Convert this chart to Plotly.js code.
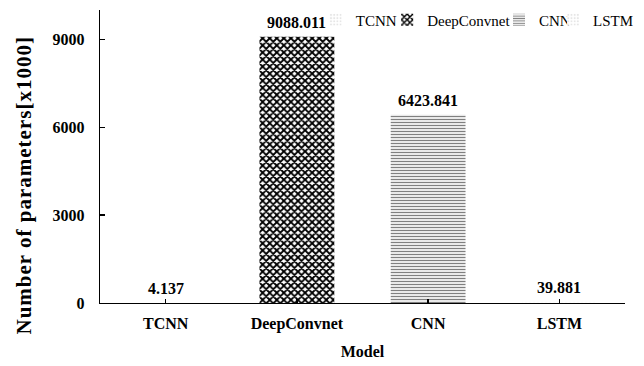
<!DOCTYPE html>
<html>
<head>
<meta charset="utf-8">
<script src="https://cdn.plot.ly/plotly-3.0.1.min.js"></script>
<style>
html,body{margin:0;padding:0;background:#fff;}
#chart{width:644px;height:366px;}
#chart .annotation[data-index="4"] .annotation-text{letter-spacing:1px;}
</style>
</head>
<body>
<div id="chart"></div>
<script>
const models = ["TCNN", "DeepConvnet", "CNN", "LSTM"];
const params = [4.137, 9088.011, 6423.841, 39.881];
const yTicks = [0, 3000, 6000, 9000];
const yTitle = 'Number of parameters[x1000]';
const xTitle = 'Model';

const FONT = 'Liberation Serif';
const patterns = [
  {shape: '.', fgcolor: '#e6e6e6', bgcolor: 'white', size: 4, solidity: 0.3},
  {shape: 'x', fgcolor: 'black', bgcolor: 'white', size: 5, solidity: 0.6},
  {shape: '-', fgcolor: '#808080', bgcolor: 'white', size: 3, solidity: 0.45},
  {shape: '.', fgcolor: '#e6e6e6', bgcolor: 'white', size: 4, solidity: 0.3}
];
// legend placement (paper x of each legend's left edge)
const legendX = [0.411, 0.547, 0.76, 0.863];

const traces = models.map((m, i) => ({
  type: 'bar',
  name: m,
  x: [m],
  y: [params[i]],
  legend: i === 0 ? 'legend' : 'legend' + (i + 1),
  marker: {color: 'white', line: {width: 0}, pattern: patterns[i]},
  hoverinfo: 'x+y'
}));

const legendBase = {
  orientation: 'h', xanchor: 'left', y: 0.966, yanchor: 'middle',
  font: {family: FONT, size: 15, color: 'black'},
  itemwidth: 30, bgcolor: 'rgba(0,0,0,0)', borderwidth: 0
};

const annotations = models.map((m, i) => ({
  x: m, y: params[i], xref: 'x', yref: 'y',
  text: params[i].toFixed(3),
  showarrow: false, yanchor: 'bottom', yshift: 4,
  font: {family: FONT, size: 16, color: 'black', weight: 'bold'}
}));
annotations.push({
  xref: 'paper', yref: 'paper', x: (24 - 100) / 525, y: (303 - 186) / 293,
  text: yTitle, textangle: -90, showarrow: false,
  xanchor: 'center', yanchor: 'middle',
  font: {family: FONT, size: 21, color: 'black', weight: 'bold'}
});

const layout = {
  width: 644, height: 366,
  margin: {l: 100, r: 19, t: 10, b: 63, autoexpand: false},
  paper_bgcolor: 'white', plot_bgcolor: 'white',
  barmode: 'overlay',
  bargap: 0.43,
  font: {family: FONT, color: 'black'},
  showlegend: true,
  legend: Object.assign({}, legendBase, {x: legendX[0]}),
  legend2: Object.assign({}, legendBase, {x: legendX[1]}),
  legend3: Object.assign({}, legendBase, {x: legendX[2]}),
  legend4: Object.assign({}, legendBase, {x: legendX[3]}),
  annotations: annotations,
  xaxis: {
    type: 'category', categoryorder: 'array', categoryarray: models,
    showline: true, linecolor: 'black', linewidth: 1.3,
    ticks: 'inside', ticklen: 4, tickcolor: 'black', tickwidth: 1.3,
    ticklabelstandoff: 5,
    tickfont: {family: FONT, size: 16, weight: 'bold', color: 'black'},
    title: {text: xTitle, font: {family: FONT, size: 16, weight: 'bold', color: 'black'}, standoff: 14},
    showgrid: false, zeroline: false
  },
  yaxis: {
    range: [0, 10000],
    tickvals: yTicks, ticktext: yTicks.map(String),
    showline: true, linecolor: 'black', linewidth: 1.3,
    ticks: 'inside', ticklen: 5, tickcolor: 'black', tickwidth: 1.3,
    ticklabelstandoff: 11,
    tickfont: {family: FONT, size: 16, weight: 'bold', color: 'black'},
    showgrid: false, zeroline: false
  }
};

Plotly.newPlot('chart', traces, layout, {displayModeBar: false, staticPlot: true});
</script>
</body>
</html>
